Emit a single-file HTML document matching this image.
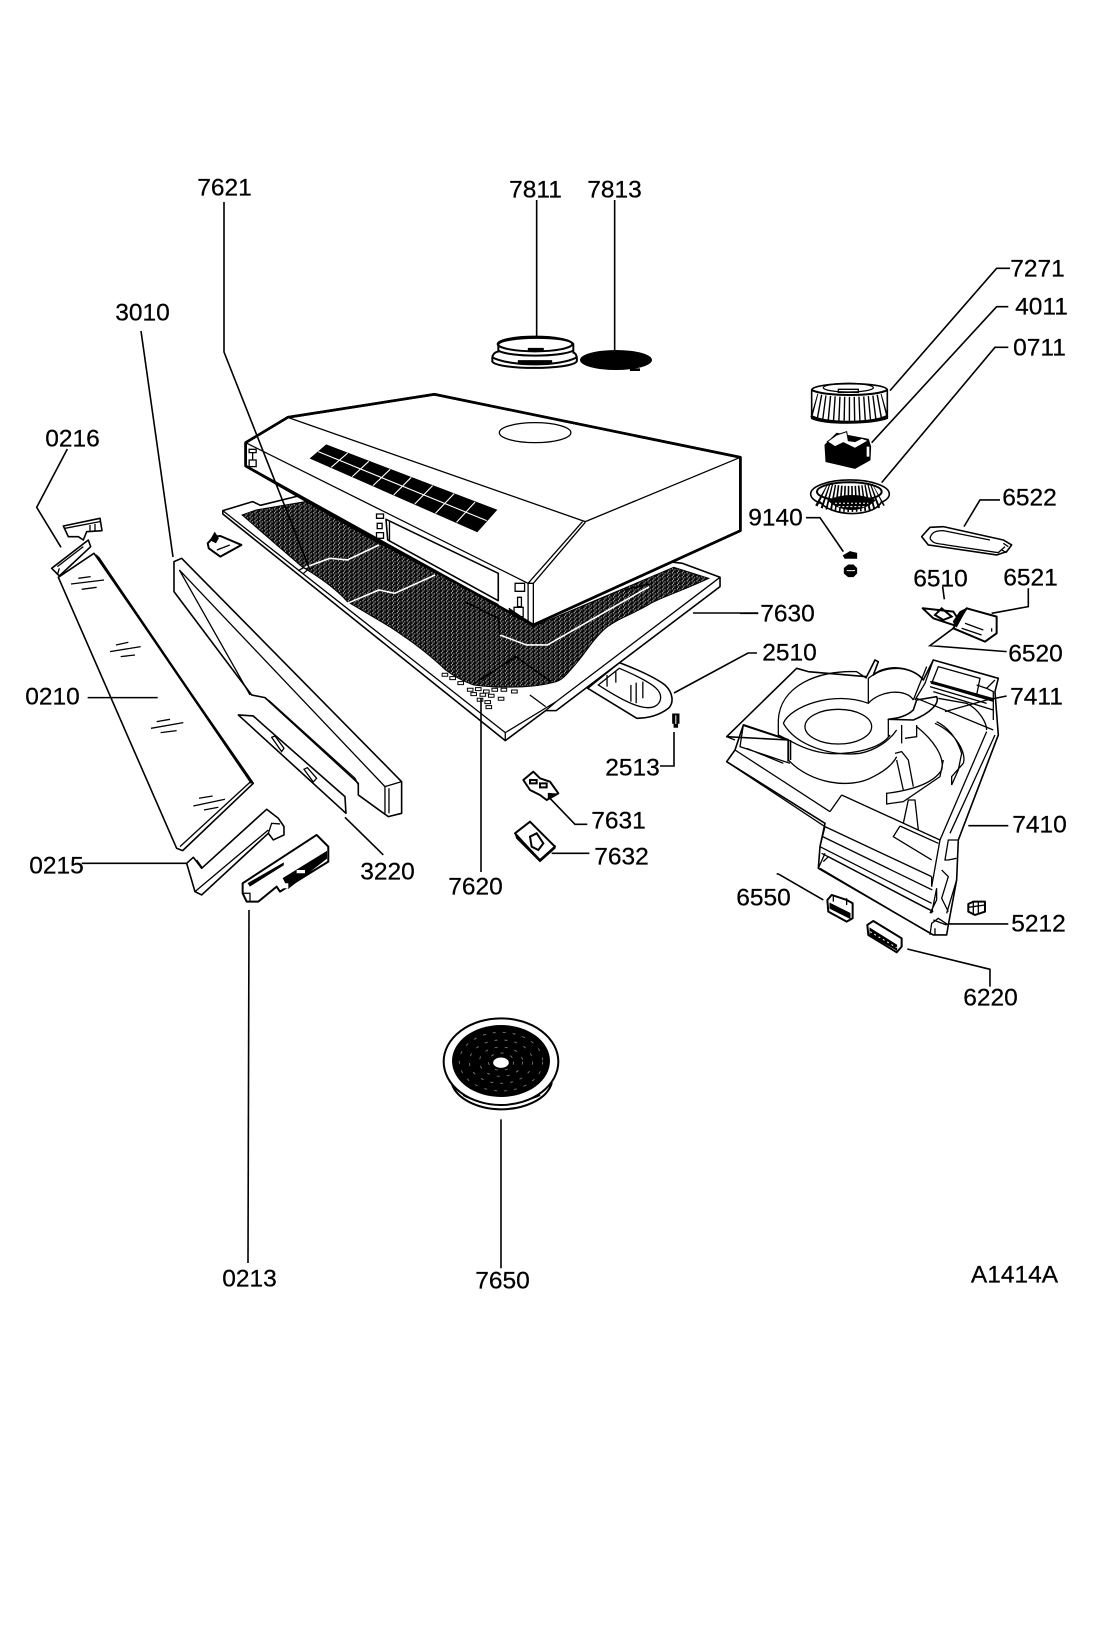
<!DOCTYPE html>
<html><head><meta charset="utf-8"><style>
html,body{margin:0;padding:0;background:#fff}
svg{display:block}
svg *{vector-effect:non-scaling-stroke}
.l{fill:none;stroke:#000;stroke-width:1.6}
.w{fill:#fff;stroke:#000;stroke-width:1.6;stroke-linejoin:round}
.n{fill:none;stroke:#000;stroke-width:1.3}
.t{fill:none;stroke:#000;stroke-width:2.6;stroke-linejoin:round}
.k{fill:#000;stroke:#000;stroke-width:1}
text{font-family:"Liberation Sans",sans-serif;font-size:24.5px;fill:#000;text-anchor:middle;stroke:#000;stroke-width:.25}
</style></head><body>
<svg width="1100" height="1647" viewBox="0 0 1100 1647" xmlns="http://www.w3.org/2000/svg">
<defs>
<pattern id="d" patternUnits="userSpaceOnUse" width="14" height="12">
<rect width="14" height="12" fill="#0c0c0c"/>
<rect x="1" y="1" width="3" height="3" fill="#fff"/><rect x="8" y="4" width="3" height="3" fill="#ccc"/><rect x="4" y="8" width="3" height="3" fill="#eee"/>
</pattern>
</defs>
<rect width="1100" height="1647" fill="#fff"/>

<!-- HOOD + FILTER: zoom 1 coords -->
<g transform="translate(200,360) scale(.3509,.3333)">
<!-- tab 2510 -->
<path class="w" d="M1105,985L1195,908C1250,930 1300,955 1325,975C1350,1000 1350,1030 1335,1045C1310,1065 1280,1075 1245,1075Z"/>
<path class="n" d="M1135,975L1195,925C1240,945 1280,965 1300,985C1320,1005 1315,1030 1295,1040C1270,1050 1230,1040 1135,975Z"/>
<path class="n" d="M1160,945V980M1185,932V968M1228,975V1025M1243,968V1030M1262,965V1015"/>
<!-- frame -->
<path class="w" d="M65,452L150,425L172,436L280,408L500,500L1375,610L1482,652V680L1015,1052H985L870,1142L65,462Z"/>
<path class="n" d="M870,1118V1142M870,1118L1015,1025L1482,652M65,452L870,1118M985,1052L1015,1025M940,1005L985,1040"/>
<path class="n" d="M280,632L300,620M295,640L315,622"/>
<!-- mesh -->
<path fill="url(#d)" stroke="#000" stroke-width="1" d="M120,465L160,450L300,425L520,545L850,730L950,800L1350,622L1450,655C1380,690 1320,710 1285,730C1230,765 1180,780 1150,810C1110,850 1100,880 1060,925C1040,950 1030,960 1015,965C950,985 850,985 780,975C740,960 720,945 700,930C640,870 590,835 540,800C500,775 460,750 420,725C390,690 340,650 290,620Z"/>
<path fill="none" stroke="#fff" stroke-width="1.6" d="M300,622L370,595L420,600L510,555M420,730L510,690L555,700L670,645M855,825L930,855L990,855L1280,680"/>
<path fill="none" stroke="#000" stroke-width="1.5" d="M755,725L850,775L855,825M780,972L900,890L1000,965M1210,690L1280,672"/>
<!-- perforation holes -->
<g fill="#fff" stroke="#000" stroke-width="1">
<path d="M690,940h16v9h-16zM712,950h16v9h-16zM735,965h16v9h-16zM762,985h16v9h-16zM785,983h16v9h-16zM808,990h16v9h-16zM832,985h16v9h-16zM858,985h16v9h-16zM888,990h16v9h-16zM772,998h16v9h-16zM798,1000h16v9h-16zM822,1003h16v9h-16zM850,1012h16v9h-16zM790,1015h16v9h-16zM812,1022h16v9h-16zM815,1037h16v9h-16z"/>
</g>
<!-- hood -->
<path class="w" d="M130,248L250,172L668,103L1540,292V512L950,795L930,785L130,318Z" style="stroke-width:2.6"/>
<path class="n" d="M250,172L1098,485L1540,292M130,248L935,670L1090,485M950,670L1098,487M935,670H950V795M935,670V785"/>
<path class="t" d="M130,248L250,172L668,103L1540,292V512L950,795L880,750M130,248V318L505,545"/>
<ellipse class="n" cx="955" cy="218" rx="102" ry="30"/>
<!-- vents -->
<path fill="#000" stroke="#000" d="M315,295L360,255L845,450L790,515Z"/>
<path fill="none" stroke="#fff" stroke-width="1.1" d="M421,279L374,322M481,304L434,350M542,328L493,377M602,352L552,405M663,377L612,432M724,401L671,460M784,426L731,487M337,275L817,482"/>
<!-- left end -->
<path class="n" d="M140,268h20v10h-20zM150,278v22M140,300h20v20h-20z"/>
<!-- panel -->
<path class="w" d="M530,478L850,640V722L535,540Z"/>
<path class="n" d="M540,485V545"/>
<path class="t" style="stroke-width:1.8" d="M505,545L850,735"/>
<path class="n" d="M503,462h20v13h-20zM505,490h14v16h-14zM503,518h20v17h-20z"/>
<path class="n" d="M898,670h27v24h-27zM905,712h11v28h-11zM895,742h26v28h-26z"/>
<path class="n" d="M880,745L935,785"/>
<!-- clip near frame -->
<path class="w" d="M22,550L40,530L58,528L118,555L58,590L25,565Z" style="stroke-width:2"/>
<path class="k" d="M30,540L42,518L52,535L45,548Z"/>
<path class="n" d="M48,570L85,555"/>
<!-- screw -->
<path class="k" d="M1347,1062h18v28h-4v12h-10v-12h-4z"/>
<path fill="none" stroke="#fff" stroke-width="1" d="M1356,1066v26"/>
</g>

<!-- LEFT PARTS: zoom 2 coords -->
<g transform="translate(20,400) scale(.3333)">
<path class="w" d="M115,532L470,1345L488,1352L700,1150L222,460Z"/>
<path class="n" d="M235,470L690,1140M480,1340L692,1145"/>
<path class="n" style="stroke-width:2" d="M228,465L695,1150"/>
<path class="n" d="M153,552L252,540M175,535L212,530M185,568L230,562M270,755L362,740M288,735L325,727M302,770L345,765M393,985L490,968M410,965L450,958M422,998L470,992M520,1218L615,1198M537,1195L578,1188M552,1230L595,1222"/>
<path class="w" d="M95,505L205,420L212,440L118,528Z"/>
<path class="n" d="M112,500L190,440M118,505L112,525"/>
<path class="w" d="M130,378L240,355L246,392L200,395L190,420L175,410L145,410Z"/>
<path class="n" d="M135,385L240,365M210,375V395M225,372V392"/>
<!-- trim 3010 -->
<path class="w" d="M462,485L485,475L1145,1145V1240L1105,1250L1015,1185V1150L735,893L695,885L462,575Z"/>
<path class="n" d="M478,510L690,885M478,510L1095,1160M1095,1160L1145,1145M1095,1160V1245M1107,1165V1240M745,900L1005,1135L1015,1155"/>
<!-- 3220 -->
<path class="w" d="M655,945L700,948L730,975L975,1190L978,1240Z"/>
<path class="n" d="M755,1012L765,1008L792,1045L785,1055ZM852,1108L862,1103L890,1135L880,1146Z"/>
<!-- 0215 -->
<path class="w" d="M500,1390L520,1372L545,1405L740,1228L775,1255L792,1280V1305L760,1320L745,1300L545,1485L525,1475Z"/>
<path class="n" d="M548,1405L530,1380M525,1475L745,1290M745,1300L755,1270L780,1272"/>
<!-- 0213 -->
<path class="w" d="M668,1450L890,1305L925,1340V1385L780,1475L770,1460L715,1505L680,1505L668,1480Z" style="stroke-width:2"/>
<path class="k" d="M685,1450L790,1390V1395L690,1458ZM790,1435L920,1355V1375L805,1465Z"/>
<path fill="#fff" d="M830,1410h25v10h-25zM790,1450h15v15h-15z"/>
<path class="n" d="M668,1480H690V1505"/>
<!-- Leaders -->
<path class="l" d="M142,147L50,322L123,442M203,893H413M185,1390H500M975,1252L1090,1365"/>
</g>

<!-- FAN HOUSING: zoom 3 coords -->
<g transform="translate(700,620) scale(.3333)">
<path class="w" d="M80,350L290,145L325,155L500,170L525,120L535,125L520,165C560,130 640,140 670,180L700,120L895,175L885,215L895,345L775,660L770,780L745,915L740,945L700,945L355,745L360,680L375,610L80,425L105,390L130,315L265,360Z"/>
<path class="n" d="M80,350L105,360M105,390L390,575M80,425L375,620"/>
<path class="n" d="M235,300C240,200 350,150 470,155L500,175"/>
<path class="n" d="M250,310C270,260 400,210 505,250C540,210 620,205 640,240M505,175V250M505,175C560,130 640,140 670,180"/>
<path class="n" d="M250,310C290,380 400,410 480,400C530,390 570,360 590,330"/>
<path class="n" d="M235,300V345L275,365C330,395 380,405 430,400C500,395 550,375 570,345"/>
<ellipse class="n" cx="415" cy="320" rx="100" ry="52"/>
<path class="n" d="M265,420C330,490 450,510 520,470C560,450 580,430 590,410"/>
<path class="t" style="stroke-width:2" d="M130,315L265,360V425"/>
<path class="n" d="M130,315L120,380L270,430M272,360V420M140,385L250,430"/>
<!-- middle blades -->
<path class="w" d="M565,298L640,300C690,280 720,250 710,230L650,240L640,270C620,290 590,295 565,298Z"/>
<path class="n" d="M565,298V350M605,315V370M650,315V350L615,355M640,240L680,140"/>
<path class="n" d="M650,320C700,360 735,410 725,450C700,490 640,510 560,520V552L610,545L720,470L730,420"/>
<path class="n" d="M585,400L605,395L625,420L640,500M590,420L610,510"/>
<path class="n" d="M610,610L625,540H645L655,630"/>
<path class="n" d="M705,310C770,340 800,400 790,430L755,470L755,495L775,450L785,400C770,350 740,320 710,305"/>
<path class="n" d="M735,275L860,240M715,235L800,250C840,270 860,310 860,330"/>
<!-- top frame -->
<path class="n" d="M700,120L675,190L645,240M715,140L695,190L830,225L840,175Z"/>
<path class="n" d="M690,185L870,240M690,200L860,250M700,215L880,270M885,180L860,205L830,195M860,205L880,215V300"/>
<path class="k" style="stroke-width:.5" d="M695,183L880,235V245L695,190Z"/>
<!-- right bars -->
<path class="n" d="M650,235L880,330M860,335L720,660L695,800M885,345L750,640M895,345L775,660H745L735,720L745,720L770,715M725,750L745,770L725,835L745,875M770,780L740,880"/>
<!-- front block -->
<path class="n" d="M425,525L390,575M425,525L720,660M600,618L580,650L695,720M600,618L715,670M375,620L695,770M360,680L695,850M375,620L360,680M695,770V800M365,700L700,875M368,650L697,810"/>
<path class="n" d="M355,745L375,700M370,725L385,710L670,860L690,870M360,745L690,940M695,880L710,805V840L690,880M700,900L740,915M690,945L695,910L715,895L745,915M705,925V945"/>
<!-- small parts -->
<path class="w" d="M382,840L395,825L440,840L458,850V895L440,905L385,875Z" style="stroke-width:2"/>
<path class="k" d="M390,850L450,880V895L390,865Z"/>
<path class="n" d="M400,825V845M440,835V855"/>
<path class="w" d="M502,915L520,903L605,955V980L590,997L505,945Z" style="stroke-width:2"/>
<path class="k" d="M510,925L590,975V990L510,945Z"/>
<path fill="none" stroke="#fff" stroke-dasharray="2 3" d="M510,935L590,983"/>
<path class="w" d="M805,852L820,845H855V875L825,885L805,875Z" style="stroke-width:2"/>
<path class="n" d="M820,845V885M835,845V880M805,862L855,855"/>
<!-- Leaders -->
<path class="l" d="M235,762L370,840M230,762L235,762M622,987L870,1048V1100M805,617H925M745,912H925M860,240L920,228"/>
</g>

<!-- RIGHT TOP PARTS: zoom 4 coords -->
<g transform="translate(740,250) scale(.3333)">
<path class="l" d="M810,55H770L450,422M805,170H770L395,578M805,292H765L425,698M780,750H720L672,830M198,803H240L310,905M608,1010L613,1048M865,1015V1070L755,1090M800,1205L570,1187L640,1135M55,1090H0"/>
<!-- motor 7271 -->
<path class="w" d="M215,420C220,395 440,395 442,420V505C400,522 250,525 215,505Z"/>
<path fill="none" stroke="#000" stroke-width="2" d="M215,420C250,440 410,440 442,420"/>
<ellipse class="n" cx="325" cy="413" rx="75" ry="13"/>
<path class="n" d="M295,418h60v9h-60z"/>
<path fill="none" stroke="#000" stroke-width="24" stroke-dasharray="1.4 3.6" d="M222,466C270,480 390,480 436,466"/>
<path fill="none" stroke="#000" stroke-width="2.5" d="M213,498C250,522 400,522 442,498"/>
<!-- 4011 -->
<path class="k" d="M255,585L290,550L385,568L392,590L390,630L345,655L258,635Z"/>
<path fill="#fff" stroke="#000" d="M262,575L290,555L320,545L325,572L345,575L365,565L385,572L345,595L310,578L285,590Z"/>
<path fill="#fff" d="M380,590h8v30h-8z"/>
<!-- 0711 -->
<ellipse class="w" cx="330" cy="732" rx="118" ry="42"/>
<path class="w" d="M240,755C270,800 400,805 425,755"/>
<ellipse class="n" cx="328" cy="725" rx="97" ry="28" style="stroke-width:2"/>
<path fill="none" stroke="#000" stroke-width="26" stroke-dasharray="1.6 2.2" d="M245,732C280,752 380,752 415,732"/>
<path fill="#000" d="M262,750C310,730 360,730 408,750C370,790 300,790 262,750Z"/>
<path fill="none" stroke="#fff" stroke-width="1" stroke-dasharray="2 2" d="M285,760H385M295,770H375"/>
<!-- 9140 -->
<path class="k" d="M310,917L330,905L350,910L350,925H315Z"/>
<path class="k" d="M313,955L325,945H340L350,955V970L340,980H325L313,970Z"/>
<path fill="none" stroke="#fff" stroke-width="1" d="M320,962H345"/>
<!-- 6522 -->
<path class="w" d="M545,860L570,832L610,830L790,870L815,885L800,905L770,915L600,890L565,885Z"/>
<path class="n" d="M570,865C575,845 590,842 610,842L750,870M570,865C580,885 600,880 620,885L775,908L795,890"/>
<path class="n" d="M790,880L805,890M785,900L800,908"/>
<!-- 6510 -->
<path class="w" d="M548,1075L640,1085L660,1115L640,1125L580,1105Z" style="stroke-width:2"/>
<path class="n" d="M585,1095L605,1075L635,1100L610,1110Z" style="stroke-width:2"/>
<!-- capacitor -->
<path class="w" d="M680,1075L770,1100V1150L735,1175L640,1135Z" style="stroke-width:2"/>
<path class="n" d="M675,1120L730,1140M665,1135L725,1155M755,1135V1145"/>
<path class="k" d="M640,1115L660,1085L680,1075L650,1130Z"/>
</g>

<!-- 7811 / 7813: zoom 6 coords -->
<g transform="translate(460,320) scale(.3333)">
<path class="w" d="M97,112C100,95 115,95 115,95V72C130,50 320,45 340,72V98C350,100 352,115 350,125C330,150 115,150 97,125Z" style="stroke-width:2"/>
<ellipse class="n" cx="225" cy="72" rx="112" ry="22" style="stroke-width:2"/>
<path class="n" d="M115,92C150,112 300,112 340,92M97,112C150,140 300,140 350,112" style="stroke-width:2"/>
<path class="k" d="M175,122H275V130H175ZM205,85H250V92H205Z"/>
<ellipse cx="468" cy="120" rx="108" ry="30" fill="#000"/>
<path fill="#000" d="M510,145h30v8h-30z"/>
<path class="l" d="M230,-360V52M464,-360V90"/>
</g>

<!-- 7650: zoom 5 coords -->
<g transform="translate(420,1000) scale(.3333)">
<path class="w" d="M95,250C110,300 180,328 243,328C310,328 380,300 395,250Z" style="stroke-width:2"/>
<path class="n" d="M130,285C180,315 300,315 360,285" style="stroke-width:2"/>
<ellipse class="w" cx="243" cy="185" rx="172" ry="130" style="stroke-width:2"/>
<ellipse cx="243" cy="183" rx="147" ry="108" fill="#000"/>
<g fill="none" stroke="#777" stroke-width=".9" stroke-dasharray="3 7">
<ellipse cx="243" cy="185" rx="125" ry="88"/>
<ellipse cx="243" cy="185" rx="95" ry="65"/>
<ellipse cx="243" cy="185" rx="65" ry="44"/>
<ellipse cx="243" cy="185" rx="38" ry="26"/>
</g>
<ellipse cx="243" cy="188" rx="25" ry="17" fill="#fff" stroke="#000"/>
<path class="l" d="M243,358V805"/>
</g>

<!-- 7631/7632: zoom 7 coords -->
<g transform="translate(500,740) scale(.3333)">
<path class="w" d="M70,120L100,95L120,115L150,125L175,160L140,180L120,165L90,150Z" style="stroke-width:2"/>
<path class="n" d="M90,120h20v10h-20zM120,130h20v12h-20z" style="stroke-width:2"/>
<path class="k" d="M145,160L172,162L145,178Z"/>
<path class="w" d="M45,280L90,245L165,320L120,362Z" style="stroke-width:2"/>
<path class="k" d="M45,280L50,295L120,365L165,325L165,318L120,358Z"/>
<path class="n" d="M90,290L110,280L130,310L115,330L95,320Z" style="stroke-width:2"/>
<path class="l" d="M150,175L225,253H262M155,340H268"/>
</g>

<!-- Loose leaders -->
<g class="l">
<path class="l" d="M224,202V352L310,570"/>
<path class="l" d="M141,331L173,557"/>
<path class="l" d="M481,698V872"/>
<path class="l" d="M674,693L748,653H757"/>
<path class="l" d="M693,613H758"/>
<path class="l" d="M660,766H674V732"/>
<path class="l" d="M249,910L248,1263"/>
</g>

<!-- Labels -->
<g transform="translate(.5,.5)">
<text x="224" y="195">7621</text>
<text x="535" y="197">7811</text>
<text x="614" y="197">7813</text>
<text x="142" y="320">3010</text>
<text x="1037" y="276">7271</text>
<text x="1041" y="314">4011</text>
<text x="1039" y="355">0711</text>
<text x="1029" y="505">6522</text>
<text x="775" y="525">9140</text>
<text x="940" y="586">6510</text>
<text x="1030" y="585">6521</text>
<text x="1035" y="661">6520</text>
<text x="787" y="621">7630</text>
<text x="789" y="660">2510</text>
<text x="1036" y="704">7411</text>
<text x="1039" y="832">7410</text>
<text x="1038" y="931">5212</text>
<text x="990" y="1005">6220</text>
<text x="763" y="905">6550</text>
<text x="72" y="446">0216</text>
<text x="52" y="704">0210</text>
<text x="56" y="873">0215</text>
<text x="387" y="879">3220</text>
<text x="249" y="1286">0213</text>
<text x="502" y="1288">7650</text>
<text x="475" y="894">7620</text>
<text x="632" y="775">2513</text>
<text x="618" y="828">7631</text>
<text x="621" y="864">7632</text>
<text x="1014" y="1282">A1414A</text>
</g>
</svg>
</body></html>
